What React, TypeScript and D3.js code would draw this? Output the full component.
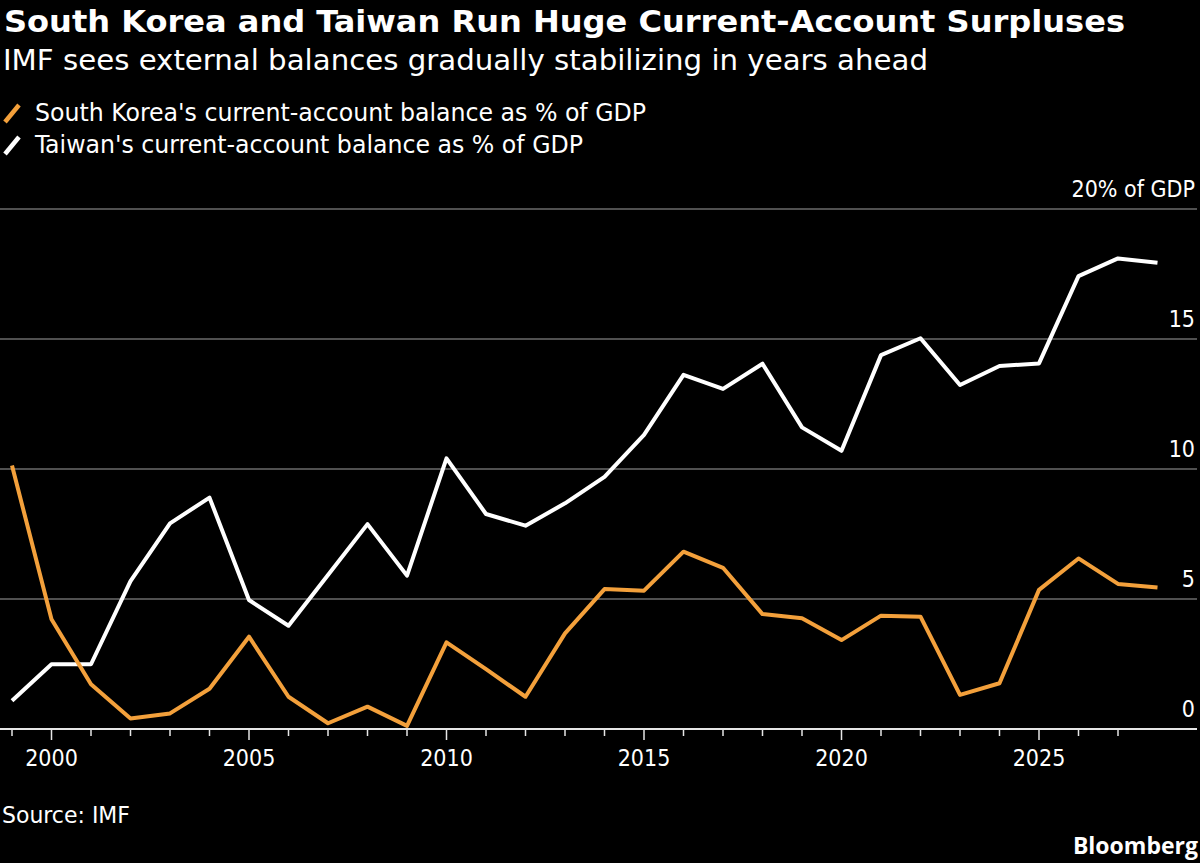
import * as React from 'react';
import * as d3 from 'd3';

// values, % of GDP
const years = [
  1999, 2000, 2001, 2002, 2003, 2004, 2005, 2006, 2007, 2008,
  2009, 2010, 2011, 2012, 2013, 2014, 2015, 2016, 2017, 2018,
  2019, 2020, 2021, 2022, 2023, 2024, 2025, 2026, 2027, 2028,
];
const korea = [
  10.13, 4.22, 1.72, 0.4, 0.6, 1.55, 3.55, 1.24, 0.22, 0.86,
  0.12, 3.33, 2.3, 1.24, 3.68, 5.38, 5.32, 6.82, 6.2, 4.42,
  4.26, 3.42, 4.36, 4.32, 1.31, 1.76, 5.35, 6.56, 5.58, 5.44,
];
const taiwan = [
  1.09, 2.49, 2.49, 5.69, 7.91, 8.9, 4.96, 3.97, 5.92, 7.88,
  5.9, 10.41, 8.27, 7.82, 8.68, 9.7, 11.31, 13.62, 13.08, 14.05,
  11.6, 10.7, 14.38, 15.03, 13.23, 13.96, 14.06, 17.42, 18.1, 17.93,
];
const yTicks = [0, 5, 10, 15, 20];
const yTickLabels = ['0', '5', '10', '15', '20% of GDP'];
const xLabelYears = [2000, 2005, 2010, 2015, 2020, 2025];
const tickYears = years.slice(0, -1);

const seriesNames = [
  "South Korea's current-account balance as % of GDP",
  "Taiwan's current-account balance as % of GDP",
];

const W = 1200;
const H = 863;
const ORANGE = '#f3a03b';
const FONT = '"Liberation Sans Narrow", "DejaVu Sans Condensed", "Noto Sans", sans-serif';

export default function App() {
  React.useEffect(() => {
    document.body.style.margin = '0';
    document.body.style.background = '#000';
  }, []);

  const x = d3.scaleLinear().domain([1999, 2028]).range([12, 1157.5]);
  const y = d3.scaleLinear().domain([0, 20]).range([729, 209]);

  const line = d3.line<number>()
    .x((_, i) => x(years[i]))
    .y((d) => y(d));

  return (
    <svg width={W} height={H} style={{ display: 'block', background: '#000' }}>
      <rect width={W} height={H} fill="#000" />

      {/* header */}
      <text x={4} y={32} fill="#fff" fontFamily={FONT} fontWeight="bold" fontSize={30}
        textLength={1121} lengthAdjust="spacingAndGlyphs">
        South Korea and Taiwan Run Huge Current-Account Surpluses
      </text>
      <text x={3} y={70} fill="#fff" fontFamily={FONT} fontSize={29}
        textLength={925} lengthAdjust="spacingAndGlyphs">
        IMF sees external balances gradually stabilizing in years ahead
      </text>

      {/* legend */}
      <line x1={5} y1={122} x2={19} y2={105} stroke={ORANGE} strokeWidth={4.5} />
      <text x={35} y={121} fill="#fff" fontFamily={FONT} fontSize={24}
        textLength={611} lengthAdjust="spacingAndGlyphs">{seriesNames[0]}</text>
      <line x1={5} y1={154} x2={19} y2={137} stroke="#fff" strokeWidth={4.5} />
      <text x={35} y={153} fill="#fff" fontFamily={FONT} fontSize={24}
        textLength={548} lengthAdjust="spacingAndGlyphs">{seriesNames[1]}</text>

      {/* grid + y labels */}
      {yTicks.map((t, i) => (
        <g key={t}>
          {t !== 0 && (
            <line x1={0} x2={1197} y1={y(t)} y2={y(t)} stroke="#6b6b6b" strokeWidth={1.5} />
          )}
          <text x={1195} y={y(t) - 12} textAnchor="end" fill="#fff" fontFamily={FONT} fontSize={23}>
            {yTickLabels[i]}
          </text>
        </g>
      ))}

      {/* x axis */}
      <line x1={0} x2={1197} y1={y(0)} y2={y(0)} stroke="#e6e6e6" strokeWidth={2} />
      {tickYears.map((yr) => (
        <line key={yr} x1={x(yr)} x2={x(yr)} y1={y(0)}
          y2={y(0) + (yr % 5 === 0 ? 11 : 7)} stroke="#e6e6e6" strokeWidth={1.5} />
      ))}
      {xLabelYears.map((yr) => (
        <text key={yr} x={x(yr)} y={766} textAnchor="middle" fill="#fff" fontFamily={FONT} fontSize={23}>
          {yr}
        </text>
      ))}

      {/* series */}
      <path d={line(taiwan) || ''} fill="none" stroke="#fff" strokeWidth={4} strokeLinejoin="round" />
      <path d={line(korea) || ''} fill="none" stroke={ORANGE} strokeWidth={4} strokeLinejoin="round" />

      {/* footer */}
      <text x={2} y={823} fill="#fff" fontFamily={FONT} fontSize={23}
        textLength={128} lengthAdjust="spacingAndGlyphs">Source: IMF</text>
      <text x={1198} y={854} textAnchor="end" fill="#fff"
        fontFamily='"Open Sans", "Noto Sans", sans-serif' fontWeight="bold" fontSize={23}>
        Bloomberg
      </text>
    </svg>
  );
}
